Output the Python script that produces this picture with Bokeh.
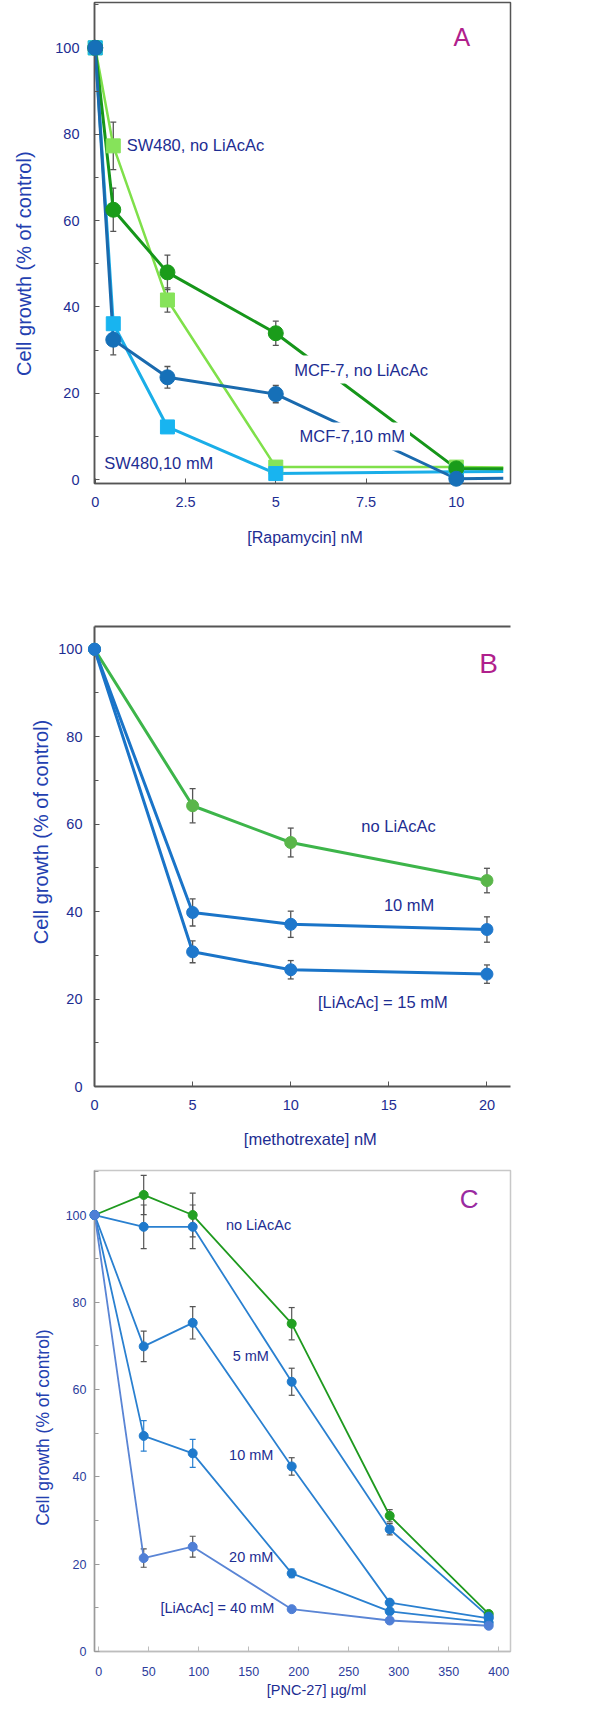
import math
from bokeh.plotting import figure
from bokeh.models import (Range1d, ColumnDataSource, Whisker, TeeHead, Label,
                          LinearAxis, FixedTicker, SingleIntervalTicker, NumeralTickFormatter)
from bokeh.core.properties import value
from bokeh.layouts import column
from bokeh.embed import file_html
from bokeh.resources import INLINE

FONT = "Liberation Sans"
NAVY = "#1d2d92"
YLAB = "#2340b0"
ERR = "#555555"

# ---------------- Panel A : rapamycin ----------------
a_dose = [0, 0.5, 2, 5, 10]
a_tail_dose = 11.3
a_sw480_none = [100, 77.3, 41.6, 2.9, 2.9]
a_sw480_none_sd = [0, 5.5, 2.8, 0, 0]
a_sw480_none_tail = 2.8
a_mcf7_none = [100, 62.5, 48.0, 33.9, 2.6]
a_mcf7_none_sd = [0, 5.0, 4.0, 2.8, 0]
a_mcf7_none_tail = 2.5
a_sw480_10 = [100, 36.1, 12.2, 1.4, 1.8]
a_sw480_10_sd = [0, 0, 0, 0, 0]
a_sw480_10_tail = 1.9
a_mcf7_10 = [100, 32.4, 23.7, 19.8, 0.2]
a_mcf7_10_sd = [0, 3.5, 2.5, 2.0, 0]
a_mcf7_10_tail = 0.3
a_xticks = [0, 2.5, 5, 7.5, 10]
a_xtitle = "[Rapamycin] nM"

# ---------------- Panel B : methotrexate ----------------
b_dose = [0, 5, 10, 20]
b_none = [100, 64.2, 55.8, 47.1]
b_none_sd = [0, 3.9, 3.3, 2.8]
b_10 = [100, 39.8, 37.1, 35.9]
b_10_sd = [0, 3.1, 3.0, 2.9]
b_15 = [100, 30.8, 26.7, 25.7]
b_15_sd = [0, 2.5, 2.1, 2.1]
b_xticks = [0, 5, 10, 15, 20]
b_xtitle = "[methotrexate] nM"

# ---------------- Panel C : PNC-27 ----------------
c_dose = [-4, 45, 94, 193, 291, 390]
c_none = [100, 104.6, 100, 75.1, 31.1, 8.6]
c_none_sd = [0, 4.5, 5.0, 3.7, 1.4, 0]
c_5 = [100, 97.3, 97.3, 61.8, 28.0, 8.0]
c_5_sd = [0, 5.0, 5.0, 3.1, 1.3, 0]
c_10 = [100, 69.9, 75.3, 42.4, 11.2, 7.6]
c_10_sd = [0, 3.5, 3.7, 2.0, 0, 0]
c_20 = [100, 49.4, 45.4, 17.9, 9.2, 6.6]
c_20_sd = [0, 3.5, 3.2, 1.0, 0, 0]
c_40 = [100, 21.4, 24.0, 9.7, 7.1, 5.9]
c_40_sd = [0, 2.1, 2.4, 0, 0, 0]
c_xticks = [0, 50, 100, 150, 200, 250, 300, 350, 400]
c_xtitle = "[PNC-27]  \u00b5g/ml"

YLABEL = "Cell growth (% of control)"


def make_fig(w, h, xr, yr, left, right, top, bottom):
    p = figure(width=w, height=h, x_range=Range1d(*xr), y_range=Range1d(*yr),
               output_backend="svg", toolbar_location=None,
               min_border_left=left, min_border_right=right,
               min_border_top=top, min_border_bottom=bottom)
    p.xgrid.visible = False
    p.ygrid.visible = False
    p.outline_line_color = None
    p.background_fill_color = "white"
    p.border_fill_color = "white"
    return p


def style_axis(ax, color, width, tick_px, tick_standoff, tick_color=NAVY):
    ax.axis_line_color = color
    ax.axis_line_width = width
    ax.major_tick_line_color = color
    ax.minor_tick_line_color = color
    ax.major_tick_in = 5
    ax.major_tick_out = 0
    ax.minor_tick_in = 4
    ax.minor_tick_out = 0
    ax.major_label_text_font = FONT
    ax.major_label_text_font_size = f"{tick_px}px"
    ax.major_label_text_color = tick_color
    ax.major_label_standoff = tick_standoff


def errbars(p, xs, ys, sds, color=ERR, width=1.3, head=7):
    pts = [(x, y, s) for x, y, s in zip(xs, ys, sds) if s > 0]
    if not pts:
        return
    src = ColumnDataSource(dict(x=[q[0] for q in pts],
                                lo=[q[1] - q[2] for q in pts],
                                hi=[q[1] + q[2] for q in pts]))
    w = Whisker(source=src, base="x", lower="lo", upper="hi",
                line_color=color, line_width=width, level="underlay",
                upper_head=TeeHead(size=head, line_color=color, line_width=width),
                lower_head=TeeHead(size=head, line_color=color, line_width=width))
    p.add_layout(w)


def note(p, x, y, text, size, color=NAVY, align="left", box=False):
    kw = {}
    if box:
        kw = dict(background_fill_color="white", padding=5)
    p.add_layout(Label(x=x, y=y, text=text, text_font=FONT,
                       text_font_size=f"{size}px", text_color=color,
                       text_align=align, text_baseline="middle", **kw))


def title_text(p, x, y, text, size, color, angle=0.0):
    # glyph text at overlay level, so it is drawn outside the frame too
    p.text(x=[x], y=[y], text=[text], angle=angle, text_align="center",
           text_baseline="middle", text_font=value(FONT),
           text_font_size=value(f"{size}px"), text_color=color, level="overlay")


# ================= Panel A =================
pA = make_fig(579, 557, (-0.02, 11.5), (-0.9, 110.5), 94, 54, 2, 74)
pA.outline_line_color = "#555555"
pA.outline_line_width = 1.5
style_axis(pA.xaxis[0], "#555555", 1.5, 14.5, 13)
style_axis(pA.yaxis[0], "#555555", 1.5, 14.5, 15)
pA.xaxis[0].ticker = FixedTicker(ticks=a_xticks, minor_ticks=[])
pA.xaxis[0].formatter = NumeralTickFormatter(format="0.[0]")
pA.yaxis[0].ticker = SingleIntervalTicker(interval=20, num_minor_ticks=2)

a_series = [
    (a_sw480_none, a_sw480_none_sd, a_sw480_none_tail, "#7fe04a", "#86e35a", "square", 14, 2.5),
    (a_sw480_10, a_sw480_10_sd, a_sw480_10_tail, "#1aaee8", "#18b4f0", "square", 14, 3),
    (a_mcf7_none, a_mcf7_none_sd, a_mcf7_none_tail, "#16961a", "#1a9c1a", "circle", 15, 3),
    (a_mcf7_10, a_mcf7_10_sd, a_mcf7_10_tail, "#1a6aae", "#1670b8", "circle", 15, 3),
]
for vals, sd, tail, lc, mc, mk, sz, lw in a_series:
    errbars(pA, a_dose, vals, sd, head=6)
    pA.line(a_dose + [a_tail_dose], vals + [tail], line_color=lc, line_width=lw)
for vals, sd, tail, lc, mc, mk, sz, lw in a_series:
    pA.scatter(a_dose, vals, marker=mk, size=sz, fill_color=mc, line_color=mc,
               level="overlay")

note(pA, 0.87, 77.5, "SW480, no LiAcAc", 16.5)
note(pA, 5.37, 25.5, "MCF-7, no LiAcAc", 16.5, box=True)
note(pA, 5.52, 10.0, "MCF-7,10 mM", 16.5, box=True)
note(pA, 0.25, 3.8, "SW480,10 mM", 16.5)
note(pA, 10.15, 102.4, "A", 25, color="#b0208c", align="center")
title_text(pA, -1.98, 50.0, YLABEL, 20, YLAB, angle=math.pi / 2)
title_text(pA, 5.81, -13.4, a_xtitle, 16, NAVY)

# ================= Panel B =================
pB = make_fig(579, 592, (0, 21.2), (0, 105.2), 82, 0, 69, 63)
style_axis(pB.xaxis[0], "#555555", 2, 14.5, 13)
style_axis(pB.yaxis[0], "#555555", 2, 14.5, 12)
pB.xaxis[0].ticker = FixedTicker(ticks=b_xticks, minor_ticks=[])
pB.yaxis[0].ticker = SingleIntervalTicker(interval=20, num_minor_ticks=2)
topB = LinearAxis(ticker=FixedTicker(ticks=[]), axis_line_color="#555555",
                  axis_line_width=2, major_tick_line_color=None,
                  minor_tick_line_color=None, major_label_text_font_size="0px")
pB.add_layout(topB, "above")

b_series = [
    (b_none, b_none_sd, "#3db54a", "#5ab64a"),
    (b_10, b_10_sd, "#1a74c8", "#1f78cc"),
    (b_15, b_15_sd, "#1a74c8", "#1f78cc"),
]
for vals, sd, lc, mc in b_series:
    errbars(pB, b_dose, vals, sd, head=6)
    pB.line(b_dose, vals, line_color=lc, line_width=3)
for vals, sd, lc, mc in b_series:
    pB.scatter(b_dose, vals, marker="circle", size=12, fill_color=mc,
               line_color=mc, level="overlay")

note(pB, 13.6, 59.6, "no LiAcAc", 16.5)
note(pB, 14.75, 41.4, "10 mM", 16.5)
note(pB, 11.39, 19.4, "[LiAcAc] = 15 mM", 16.5)
note(pB, 20.08, 96.75, "B", 28, color="#b0208c", align="center")
title_text(pB, -2.74, 58.2, YLABEL, 20, YLAB, angle=math.pi / 2)
title_text(pB, 11.0, -12.0, b_xtitle, 16.5, NAVY)

# ================= Panel C =================
pC = make_fig(579, 550, (-4.2, 411.8), (0, 110.2), 68, 69, 21, 48)
pC.outline_line_color = "#c8c8c8"
pC.outline_line_width = 1.5
style_axis(pC.xaxis[0], "#bdbdbd", 1.5, 12.5, 15, tick_color="#2c3d9c")
style_axis(pC.yaxis[0], "#9a9a9a", 1.5, 12.5, 8, tick_color="#2c3d9c")
pC.xaxis[0].ticker = FixedTicker(ticks=c_xticks, minor_ticks=[])
pC.yaxis[0].ticker = SingleIntervalTicker(interval=20, num_minor_ticks=2)

c_series = [
    (c_none, c_none_sd, "#1f9a1f", "#22a022", ERR),
    (c_5, c_5_sd, "#2a80d0", "#1f7acc", ERR),
    (c_10, c_10_sd, "#2a80d0", "#1f7acc", ERR),
    (c_20, c_20_sd, "#2a80d0", "#1f7acc", "#2a80d0"),
    (c_40, c_40_sd, "#5a85d5", "#4f7fd6", ERR),
]
for vals, sd, lc, mc, ec in c_series:
    errbars(pC, c_dose, vals, sd, color=ec, width=1.2, head=6)
    pC.line(c_dose, vals, line_color=lc, line_width=1.8)
for vals, sd, lc, mc, ec in c_series:
    pC.scatter(c_dose, vals, marker="circle", size=9, fill_color=mc,
               line_color=mc, level="overlay")

note(pC, 127.2, 97.7, "no LiAcAc", 14.5)
note(pC, 134.0, 67.7, "5 mM", 14.5)
note(pC, 130.4, 45.1, "10 mM", 14.5)
note(pC, 130.4, 21.7, "20 mM", 14.5)
note(pC, 61.7, 9.9, "[LiAcAc] = 40 mM", 14.5)
note(pC, 370.4, 103.6, "C", 26, color="#9a2aa0", align="center")
title_text(pC, -56.1, 51.3, YLABEL, 17.5, YLAB, angle=math.pi / 2)
title_text(pC, 219.8, -8.9, c_xtitle, 14.5, NAVY)

layout = column(pA, pB, pC, spacing=0)
open("out.html", "w").write(file_html(layout, INLINE))
